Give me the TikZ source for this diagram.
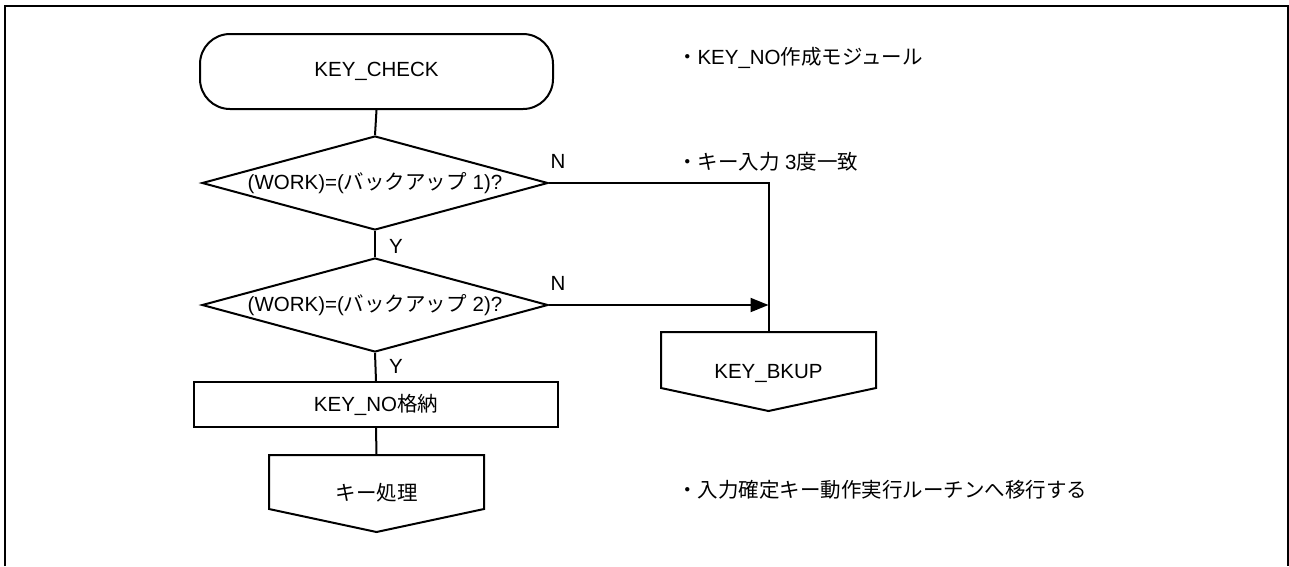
\documentclass[tikz,border=0pt]{standalone}
\usepackage{fontspec}
\setmainfont{Liberation Sans}
\newfontfamily\jp{Noto Sans CJK JP}
\usetikzlibrary{shapes.geometric,arrows.meta,calc}
\begin{document}
\begin{tikzpicture}[x=1pt,y=-1pt, line width=2pt, font=\fontsize{20.5}{23}\selectfont,
 decision/.style={diamond, draw, minimum width=346pt, minimum height=94pt, aspect=3.68, inner sep=0pt},
 proc/.style={rectangle, draw, minimum width=364pt, minimum height=45pt, inner sep=0pt},
 term/.style={rectangle, draw, rounded corners=30pt, minimum width=353pt, minimum height=75pt, inner sep=0pt},
 offbox/.style={rectangle, inner sep=0pt},
 lbl/.style={inner sep=0pt},
 note/.style={anchor=west, inner sep=0pt},
 tip/.style={-{Triangle[length=18pt,width=14pt]}}]
\useasboundingbox (0,0) rectangle (1289,566);
\draw[line width=2.5pt] (5,566) -- (5,6) -- (1288,6) -- (1288,566);

% main flow
\node[term] (start) at (376.5,71.5) {KEY\_CHECK};
\node[decision] (d1) at (375,183) {(WORK)=({\jp バックアップ} 1)?};
\node[decision] (d2) at (375,305) {(WORK)=({\jp バックアップ} 2)?};
\node[proc] (store) at (376,404.5) {KEY\_NO{\jp 格納}};
\node[offbox, minimum width=213pt, minimum height=52pt] (kp) at (376.5,482) {};
\node[lbl] (kpt) at (376.5,493) {\jp キー処理};
\draw (kp.north west) -- (kp.north east) -- (kp.south east) -- ($(kp.south)+(0,23)$) -- (kp.south west) -- cycle;

\node[offbox, minimum width=213pt, minimum height=54pt] (bk) at (768.5,360) {};
\node[lbl] (bkt) at (768.5,373) {KEY\_BKUP};
\draw (bk.north west) -- (bk.north east) -- (bk.south east) -- ($(bk.south)+(0,23)$) -- (bk.south west) -- cycle;

\draw (start.south) -- (d1.north);
\draw (d1.south) -- (d2.north);
\draw (d2.south) -- (store.north);
\draw (store.south) -- (kp.north);

\coordinate (corner) at (d1.east -| bk.north);
\draw (d1.east) -- (corner) -- (bk.north);
\draw[tip] (d2.east) -- (d2.east -| bk.north);

% labels
\node[lbl] (y1) at (396,246) {Y};
\node[lbl] (y2) at (396,366) {Y};
\node[lbl] (n1) at (558,161) {N};
\node[lbl] (n2) at (558,283) {N};

% notes
\node[note] (note1) at (676,58) {{\jp ・}KEY\_NO{\jp 作成モジュール}};
\node[note] (note2) at (676,162) {{\jp ・キー入力} 3{\jp 度一致}};
\node[note] (note3) at (676,490) {\jp ・入力確定キー動作実行ルーチンへ移行する};
\end{tikzpicture}
\end{document}
